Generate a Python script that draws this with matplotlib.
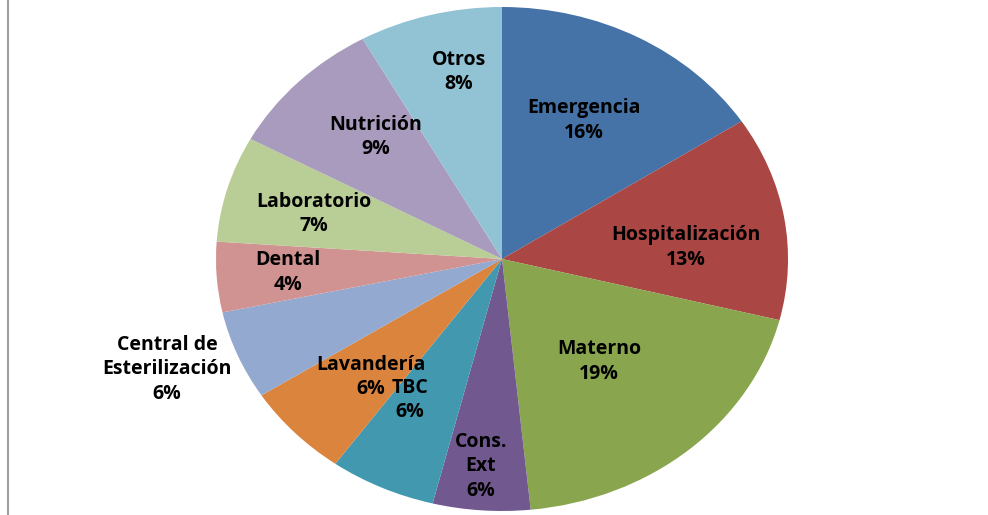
import numpy as np
import matplotlib
matplotlib.use("Agg")
import matplotlib.pyplot as plt
from matplotlib.lines import Line2D

# areas, clockwise from 12 o'clock
labels = ["Emergencia", "Hospitalización", "Materno", "Cons.\nExt", "TBC",
          "Lavandería", "Central de\nEsterilización", "Dental",
          "Laboratorio", "Nutrición", "Otros"]
values = [15.8, 13.1, 19.5, 5.5, 6.0, 6.0, 5.7, 4.5, 6.8, 9.0, 8.1]
pct_labels = ["16%", "13%", "19%", "6%", "6%", "6%", "6%", "4%", "7%", "9%", "8%"]
colors = ["#4572A7", "#AA4643", "#89A54E", "#71588F", "#4198AF", "#DB843D",
          "#93A9CF", "#D19392", "#B9CD96", "#A99BBD", "#92C3D5"]

# label placement (radius in pie units, angle nudge in degrees)
label_r = [0.62, 0.645, 0.53, 0.825, 0.645, 0.655, 1.25, 0.75, 0.68, 0.655, 0.757]
label_shift = [-1, 5.5, 1, 1, 5, -2, 2, 0, -1, 3, 3]

fig = plt.figure(figsize=(9.88, 5.15), dpi=100)
ax = fig.add_axes([0.2186, 0.0078, 0.579, 0.9786])

ax.pie(values, colors=colors, startangle=90, counterclock=False,
       radius=1, wedgeprops=dict(linewidth=0))
ax.set_xlim(-1, 1)
ax.set_ylim(-1, 1)
ax.set_aspect("auto")

total = sum(values)
cum = 0.0
for lab, v, pct, r, sh in zip(labels, values, pct_labels, label_r, label_shift):
    mid = 360 * (cum + v / 2) / total + sh   # clockwise from top
    cum += v
    theta = np.deg2rad(90 - mid)
    ax.text(r * np.cos(theta), r * np.sin(theta), f"{lab}\n{pct}",
            ha="center", va="center", fontsize=14, fontweight="bold",
            family="Open Sans", linespacing=1.3, clip_on=False)

# left border of the chart frame
fig.add_artist(Line2D([7.5 / 988, 7.5 / 988], [0, 1], color="#a0a0a0",
                      linewidth=1.5, transform=fig.transFigure))

fig.savefig("out.png", dpi=100)
